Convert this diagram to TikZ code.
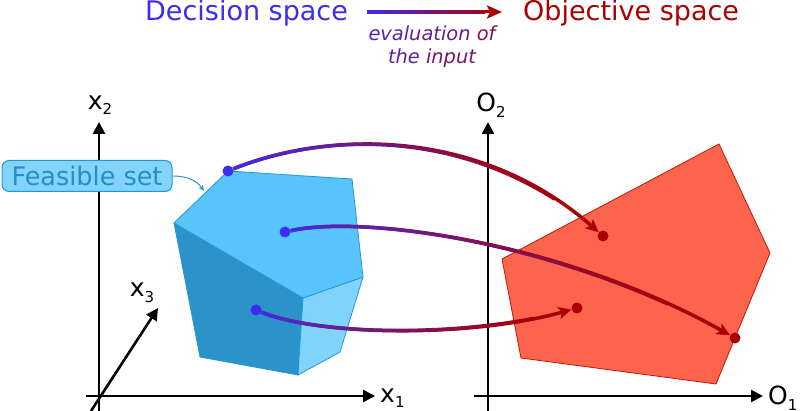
\documentclass[tikz,border=0pt]{standalone}
\usepackage{fontspec}
\setmainfont{DejaVu Sans}
\usepackage{tikz}
\usetikzlibrary{calc}
\usetikzlibrary{arrows.meta}

\definecolor{decblue}{RGB}{60,45,235}
\definecolor{objred}{RGB}{170,0,0}
\definecolor{topface}{RGB}{87,196,251}
\definecolor{darkface}{RGB}{43,147,202}
\definecolor{sideface}{RGB}{128,212,252}
\definecolor{faceedge}{RGB}{38,150,210}
\definecolor{setfill}{RGB}{130,212,250}
\definecolor{settext}{RGB}{40,140,200}
\definecolor{objfill}{RGB}{252,100,78}
\definecolor{objedge}{RGB}{190,25,5}

\newcommand{\sub}[1]{\raisebox{-0.22em}{\fontsize{15}{15}\selectfont #1}}

% colour blend along a curve, blue -> red
\newcommand{\blendcurve}[4]{%
	\foreach \i in {0,...,21}{%
		\pgfmathsetmacro{\ta}{\i/25}%
		\pgfmathsetmacro{\tb}{(\i+1)/25}%
		\pgfmathtruncatemacro{\mix}{100-4.5*\i}%
		\begin{pgfscope}%
			\pgfsetlinewidth{3.5pt}%
			\pgfsetstrokecolor{decblue!\mix!objred}%
			\pgfpathcurvebetweentime{\ta}{\tb}%
				{\pgfpointshapeborder{#1}{\pgfpointanchor{#2}{center}}}%
				{\pgfpointanchor{#2}{center}}{\pgfpointanchor{#3}{center}}%
				{\pgfpointshapeborder{#4}{\pgfpointanchor{#3}{center}}}%
			\pgfusepath{stroke}%
		\end{pgfscope}%
	}%
}

\tikzset{
	axis/.style={line width=2.6pt, -{Triangle[length=12pt,width=12pt]}},
	axislabel/.style={font=\fontsize{25}{25}\selectfont, inner sep=0pt},
	evalarrow/.style={line width=3.5pt, objred, -{Stealth[length=13pt,width=12pt,inset=3pt]}},
	face/.style={draw=faceedge, line width=0.8pt, line join=round},
	dot/.style={circle, fill, inner sep=0pt, minimum size=11pt},
	title/.style={font=\fontsize{27}{27}\selectfont, inner sep=0pt, anchor=base west},
	setbox/.style={draw=faceedge, fill=setfill, text=settext, line width=1pt, rounded corners=7pt,
		minimum width=170pt, minimum height=31pt, inner sep=0pt, font=\fontsize{25.5}{25.5}\selectfont},
}

\begin{document}
\begin{tikzpicture}[x=1pt, y=-1pt]
		\useasboundingbox (0,0) rectangle (800,411);

		% header
		\node[title, text=decblue] (dec) at (145,21) {Decision space};
		\node[title, text=objred] (obj) at (523,21) {Objective space};
		\coordinate (ha) at (367,12);
		\coordinate (hb) at (502,12);
		\draw[evalarrow, line width=3pt, -{Stealth[length=15pt,width=13pt,inset=3pt]}] (ha) -- (hb);
		\shade[left color=decblue, right color=objred!90!decblue] (367,10.5) rectangle (485,13.5);
		\node[align=center, inner sep=0pt, font=\fontsize{19.4}{23}\selectfont\itshape] (ev) at (432,47)
			{\textcolor{decblue!80!objred}{eval}\textcolor{decblue!60!objred}{uation} \textcolor{decblue!30!objred}{of}\\
			\textcolor{decblue!70!objred}{the} \textcolor{decblue!45!objred}{input}};

		% decision space axes
		\coordinate (x2a) at (99,411);
		\coordinate (x2b) at (99,122);
		\coordinate (x1a) at (86,396);
		\coordinate (x1b) at (375,396);
		\coordinate (x3a) at (91,411);
		\coordinate (x3b) at (158,308);
		\draw[axis] (x2a) -- (x2b);
		\draw[axis] (x1a) -- (x1b);
		\draw[axis] (x3a) -- (x3b);
		\node[axislabel] (lx2) at (100,105) {x\sub{2}};
		\node[axislabel, anchor=west] (lx1) at (380,398) {x\sub{1}};
		\node[axislabel] (lx3) at (142,293) {x\sub{3}};

		% feasible set
		\coordinate (A) at (228,171);
		\coordinate (B) at (352,179);
		\coordinate (C) at (363,277);
		\coordinate (D) at (303,298);
		\coordinate (E) at (174,223);
		\coordinate (F) at (298,375);
		\coordinate (G) at (200,357);
		\coordinate (H) at (340,352);
		\filldraw[face, fill=darkface] (E) -- (D) -- (F) -- (G) -- cycle;
		\filldraw[face, fill=sideface] (D) -- (C) -- (H) -- (F) -- cycle;
		\filldraw[face, fill=topface] (A) -- (B) -- (C) -- (D) -- (E) -- cycle;

		\node[setbox] (fs) at (87,176) {Feasible set};
		\coordinate (fstip) at (204,191);
		\draw[faceedge, line width=1pt, -{Stealth[length=6pt,width=5pt]}] (fs.east) to[out=0, in=125] (fstip);

		% objective space axes
		\coordinate (o2a) at (488,411);
		\coordinate (o2b) at (488,122);
		\coordinate (o1a) at (474,396);
		\coordinate (o1b) at (763,396);
		\draw[axis] (o2a) -- (o2b);
		\draw[axis] (o1a) -- (o1b);
		\node[axislabel] (lo2) at (491,105) {O\sub{2}};
		\node[axislabel, anchor=west] (lo1) at (768,398) {O\sub{1}};

		% image of the feasible set
		\coordinate (R1) at (502,259);
		\coordinate (R2) at (719,144);
		\coordinate (R3) at (770,253);
		\coordinate (R4) at (716,384);
		\coordinate (R5) at (521,358);
		\filldraw[draw=objedge, fill=objfill, line width=0.8pt] (R1) -- (R2) -- (R3) -- (R4) -- (R5) -- cycle;

		% points and their images
		\node[dot, decblue] (d1) at (A) {};
		\node[dot, decblue] (d2) at (285,232) {};
		\node[dot, decblue] (d3) at (256,310) {};
		\node[dot, objred] (e1) at (603,236) {};
		\node[dot, objred] (e2) at (735,338) {};
		\node[dot, objred] (e3) at (577,308) {};

		\coordinate (c1a) at (330,130);
		\coordinate (c1b) at (480,128);
		\coordinate (c2a) at (360,215);
		\coordinate (c2b) at (560,240);
		\coordinate (c3a) at (320,336);
		\coordinate (c3b) at (470,338);

		\draw[evalarrow] (d1) .. controls (c1a) and (c1b) .. (e1);
		\draw[evalarrow] (d2) .. controls (c2a) and (c2b) .. (e2);
		\draw[evalarrow] (d3) .. controls (c3a) and (c3b) .. (e3);
		\blendcurve{d1}{c1a}{c1b}{e1}
		\blendcurve{d2}{c2a}{c2b}{e2}
		\blendcurve{d3}{c3a}{c3b}{e3}
\end{tikzpicture}
\end{document}
